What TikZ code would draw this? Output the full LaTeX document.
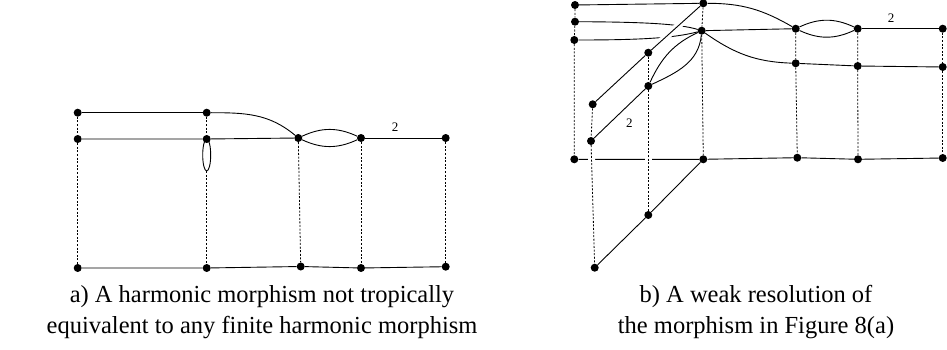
\documentclass[tikz,border=0pt]{standalone}
\usepackage{fontspec}
\setmainfont{Liberation Serif}
\pgfdeclarelayer{bg}
\pgfsetlayers{bg,main}
\tikzset{
  dot/.style={circle,fill=black,inner sep=0pt,minimum size=8pt},
  edge/.style={line width=0.9pt},
  vdash/.style={line width=0.8pt,dash pattern=on 2pt off 1.6pt},
  over/.style={preaction={draw=white,line width=7pt,solid}},
  lab/.style={font=\fontsize{13}{13}\selectfont,inner sep=0pt},
  captext/.style={align=center,font=\fontsize{24.5}{31}\selectfont,inner sep=0pt}
}
\begin{document}
\begin{tikzpicture}[x=1pt,y=-1pt]
\useasboundingbox (0,0) rectangle (947,350);
% ---------- left diagram ----------
\node[dot] (a1) at (77.7,112.7) {};
\node[dot] (a2) at (206.7,112.7) {};
\node[dot] (b1) at (77.7,139) {};
\node[dot] (b2) at (206.7,139) {};
\node[dot] (b3) at (298.3,138) {};
\node[dot] (b4) at (361,138) {};
\node[dot] (b5) at (445.7,138) {};
\node[dot] (c1) at (77.7,268) {};
\node[dot] (c2) at (206.7,268) {};
\node[dot] (c3) at (300.7,266.5) {};
\node[dot] (c4) at (361,268) {};
\node[dot] (c5) at (445.7,266.7) {};
\coordinate (loopc) at (206.7,155);
\coordinate (loopb) at (206.7,171);
\node[lab] (l2a) at (395,127) {2};
\begin{pgfonlayer}{bg}
\draw[edge] (a1) -- (a2);
\draw[edge] (a2) to[out=0,in=140] (b3);
\draw[edge] (b1) -- (b2) -- (b3);
\draw[edge] (b3) to[bend left=25] (b4);
\draw[edge] (b3) to[bend right=25] (b4);
\draw[edge] (b4) -- (b5);
\draw[edge] (loopc) ellipse (4 and 16);
\draw[edge] (c1) -- (c2) -- (c3) -- (c4) -- (c5);
\draw[vdash] (a1) -- (b1) -- (c1);
\draw[vdash] (a2) -- (b2);
\draw[vdash] (loopb) -- (c2);
\draw[vdash] (b3) -- (c3);
\draw[vdash] (b4) -- (c4);
\draw[vdash] (b5) -- (c5);
\end{pgfonlayer}
% ---------- right diagram ----------
\node[dot] (p1) at (575,5) {};
\node[dot] (p2) at (575,21.7) {};
\node[dot] (p3) at (574.3,40) {};
\node[dot] (t) at (703.3,3.3) {};
\node[dot] (m) at (701.7,30.7) {};
\node[dot] (r1) at (795.7,28.7) {};
\node[dot] (r2) at (857.7,28.7) {};
\node[dot] (r3) at (942.7,28.7) {};
\node[dot] (s1) at (795.7,63.3) {};
\node[dot] (s2) at (857.7,66) {};
\node[dot] (s3) at (942.7,67) {};
\node[dot] (d1) at (648.3,52.7) {};
\node[dot] (d2) at (648.3,86) {};
\node[dot] (e1) at (592.7,104.3) {};
\node[dot] (e2) at (591,141) {};
\node[dot] (g1) at (574.3,159.3) {};
\node[dot] (g2) at (703.3,159.3) {};
\node[dot] (g3) at (797.3,157.7) {};
\node[dot] (g4) at (858,159.3) {};
\node[dot] (g5) at (942.7,158) {};
\node[dot] (h1) at (648.3,215) {};
\node[dot] (h2) at (594.7,267.7) {};
\node[lab] (l2b) at (891,18.3) {2};
\node[lab] (l2c) at (629.3,122.7) {2};
\begin{pgfonlayer}{bg}
\draw[edge] (p1) -- (t);
\draw[edge] (t) to[out=0,in=150] (r1);
\draw[edge] (p2) .. controls (645,22) and (680,24) .. (m);
\draw[edge] (p3) .. controls (640,40) and (675,38) .. (m);
\draw[edge,over] (e1) -- (d1) -- (t);
\draw[edge] (m) -- (r1);
\draw[edge] (r1) to[bend left=25] (r2);
\draw[edge] (r1) to[bend right=25] (r2);
\draw[edge] (r2) -- (r3);
\draw[edge] (m) to[out=-35,in=178] (s1);
\draw[edge] (s1) -- (s2) -- (s3);
\draw[edge] (e2) -- (d2);
\draw[edge] (d2) to[out=65,in=205] (m);
\draw[edge] (d2) to[out=25,in=-95] (m);
\draw[edge] (g1) -- (g2) -- (g3) -- (g4) -- (g5);
\draw[edge] (g2) -- (h1) -- (h2);
\draw[vdash] (p1) -- (p2) -- (p3) -- (g1);
\draw[vdash] (e1) -- (e2);
\draw[vdash,over] (e2) -- (h2);
\draw[vdash] (d1) -- (d2);
\draw[vdash,over] (d2) -- (h1);
\draw[vdash] (t) -- (m) -- (g2);
\draw[vdash] (r1) -- (s1) -- (g3);
\draw[vdash] (r2) -- (s2) -- (g4);
\draw[vdash] (r3) -- (s3) -- (g5);
\end{pgfonlayer}
% ---------- captions ----------
\node[captext] (capa) at (262,312) {a) A harmonic morphism not tropically\\equivalent to any finite harmonic morphism};
\node[captext] (capb) at (756,312) {b) A weak resolution of\\the morphism in Figure 8(a)};
\end{tikzpicture}
\end{document}
